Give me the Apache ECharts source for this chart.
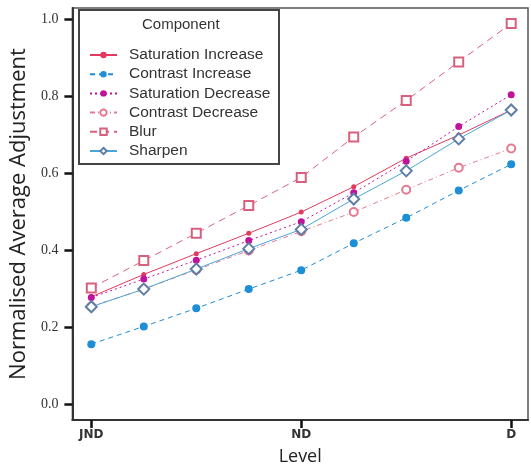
<!DOCTYPE html>
<html>
<head>
<meta charset="utf-8">
<script src="https://cdn.jsdelivr.net/npm/echarts@6/dist/echarts.min.js"></script>
<style>html,body{margin:0;padding:0;background:#fff}#c{width:531px;height:471px}</style>
</head>
<body>
<div id="c"></div>
<script>
const levels = ['JND', '', '', '', 'ND', '', '', '', 'D'];
const labelledLevels = [0, 4, 8];
const yTicks = [0, 0.2, 0.4, 0.6, 0.8, 1.0];
const saturationIncrease = [0.280, 0.338, 0.392, 0.445, 0.500, 0.566, 0.640, 0.700, 0.765];
const contrastIncrease   = [0.157, 0.203, 0.250, 0.300, 0.349, 0.419, 0.485, 0.556, 0.624];
const saturationDecrease = [0.278, 0.326, 0.375, 0.426, 0.475, 0.550, 0.632, 0.722, 0.805];
const contrastDecrease   = [0.255, 0.300, 0.350, 0.400, 0.450, 0.500, 0.558, 0.615, 0.665];
const blur               = [0.303, 0.374, 0.445, 0.517, 0.590, 0.695, 0.790, 0.890, 0.990];
const sharpen            = [0.254, 0.300, 0.352, 0.405, 0.455, 0.534, 0.607, 0.690, 0.765];

const toPts = arr => arr.map((v, i) => [i, v]);

const chart = echarts.init(document.getElementById('c'));
const sansFont = '"Liberation Sans", Arial, sans-serif';
function mk(name, data, color, lineType, symbol, size, markerColor, filled) {
  return {
    name, type: 'line', data: toPts(data),
    symbol, symbolSize: size,
    lineStyle: { color, width: 1, type: lineType },
    itemStyle: { color: markerColor || color, borderColor: markerColor || color, borderWidth: filled ? 0 : 1.2 },
    z: 3
  };
}
chart.setOption({
  animation: false,
  grid: { left: 72, right: 3, top: 8, bottom: 46, show: true, borderColor: '#555', borderWidth: 1.5 },
  legend: {
    orient: 'vertical', left: 84, top: 42,
    itemWidth: 27, itemHeight: 8, itemGap: 3.2,
    textStyle: { fontFamily: sansFont, fontSize: 15.5, color: '#333', padding: [0, 0, 0, 7] },
    data: ['Saturation Increase', 'Contrast Increase', 'Saturation Decrease', 'Contrast Decrease', 'Blur', 'Sharpen']
  },
  graphic: [
    { type: 'rect', left: 78, top: 9, shape: { width: 200, height: 154 }, style: { fill: 'transparent', stroke: '#444', lineWidth: 2 }, z: 50 },
    { type: 'text', left: 142, top: 17, style: { text: 'Component', font: '15px ' + sansFont, fill: '#333' }, z: 51 }
  ],
  xAxis: {
    type: 'value', min: -0.36, max: 8.32,
    name: 'Level', nameLocation: 'middle', nameGap: 28,
    nameTextStyle: { fontFamily: '"Open Sans", sans-serif', fontSize: 18, color: '#222' },
    axisLine: { show: true, onZero: false, lineStyle: { color: '#333', width: 2 } },
    axisTick: { show: true, customValues: labelledLevels, length: 8, lineStyle: { color: '#111', width: 2.5 } },
    axisLabel: { customValues: labelledLevels, formatter: v => levels[Math.round(v)], margin: 9,
      fontFamily: '"DejaVu Sans", sans-serif', fontWeight: 'bold', fontSize: 12, color: '#333' },
    splitLine: { show: false }
  },
  yAxis: {
    type: 'value', min: -0.04, max: 1.03,
    name: 'Normalised Average Adjustment', nameLocation: 'middle', nameGap: 42, nameRotate: 90,
    nameTextStyle: { fontFamily: '"Open Sans", sans-serif', fontSize: 22, color: '#222' },
    axisLine: { show: true, onZero: false, lineStyle: { color: '#333', width: 2 } },
    axisTick: { show: true, customValues: yTicks, length: 8, lineStyle: { color: '#111', width: 2.5 } },
    axisLabel: { customValues: yTicks, formatter: v => v.toFixed(1), margin: 14,
      fontFamily: '"Liberation Serif", serif', fontSize: 14, color: '#333' },
    splitLine: { show: false }
  },
  series: [
    mk('Saturation Increase', saturationIncrease, '#e23a5e', 'solid', 'circle', 5, '#e23a5e', true),
    mk('Contrast Increase', contrastIncrease, '#1e8ed6', [5, 4], 'circle', 8, '#1e8ed6', true),
    mk('Saturation Decrease', saturationDecrease, '#c0139c', [2, 3], 'circle', 7, '#c0139c', true),
    mk('Contrast Decrease', contrastDecrease, '#e47a90', [5, 3, 1, 3], 'emptyCircle', 8, '#e47a90', false),
    mk('Blur', blur, '#d8607e', [7, 5], 'emptyRect', 9, '#d8607e', false),
    mk('Sharpen', sharpen, '#4aa6d8', 'solid', 'emptyDiamond', 11, '#5f7fa6', false)
  ]
});
</script>
</body>
</html>
